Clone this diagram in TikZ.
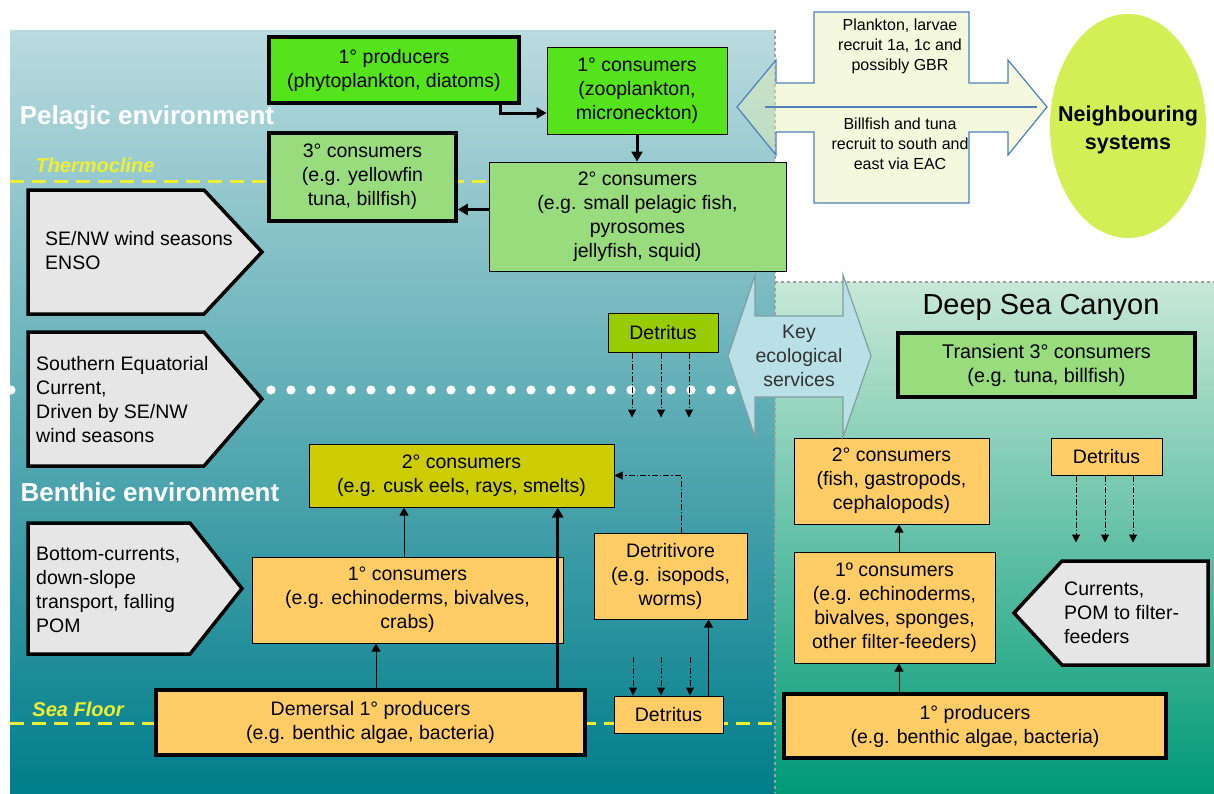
\documentclass[tikz,border=0pt]{standalone}
\usepackage{fontspec}
\setmainfont{Liberation Sans}
\usepackage{tikz}
\usetikzlibrary{arrows.meta}
\usetikzlibrary{positioning}

\definecolor{pelagictop}{HTML}{BADBDF}
\definecolor{pelagicmid}{HTML}{3396A7}
\definecolor{pelagicbot}{HTML}{007E8B}
\definecolor{canyontop}{HTML}{C8E8D7}
\definecolor{canyonmid}{HTML}{50BB95}
\definecolor{canyonbot}{HTML}{009A77}
\definecolor{brightgreen}{HTML}{55E41C}
\definecolor{palegreen}{HTML}{98DC7E}
\definecolor{olive}{HTML}{CCCC00}
\definecolor{detgreen}{HTML}{99CC00}
\definecolor{sand}{HTML}{FFCC66}
\definecolor{signgrey}{HTML}{E6E6E6}
\definecolor{keyblue}{HTML}{B9E0E6}
\definecolor{linkfill}{HTML}{E6F0B4}
\definecolor{linkedge}{HTML}{4F7FB8}
\definecolor{neighbour}{HTML}{D4EF55}
\definecolor{layeryellow}{HTML}{EEEE33}
\definecolor{panelgrey}{HTML}{A0A0A0}

\newcommand{\boxfont}{\fontsize{19.5}{24}\selectfont}
\newcommand{\linkfont}{\fontsize{16}{20}\selectfont}
\newcommand{\signright}[5]% left, top, shoulder, tip, bottom
{(#1,#2) -- (#3,#2) -- (#4,{(#2+#5)/2}) -- (#3,#5) -- (#1,#5) -- cycle
}
\newcommand{\signleft}[5]% tip, top, shoulder, right, bottom
{(#1,{(#2+#5)/2}) -- (#3,#2) -- (#4,#2) -- (#4,#5) -- (#3,#5) -- cycle
}

\begin{document}
\begin{tikzpicture}[x=1pt,y=-1pt,
	foodbox/.style={draw, line width=1pt, inner sep=0pt, align=center, font=\boxfont},
	heavybox/.style={foodbox, line width=3.5pt},
	signbox/.style={draw, line width=3.5pt, fill=signgrey},
	signtext/.style={anchor=west, align=left, inner sep=0pt, font=\boxfont},
	feed/.style={-{Triangle[width=9pt,length=8pt]}, line width=1pt},
	bigfeed/.style={-{Triangle[width=11pt,length=10pt]}, line width=3pt},
	sink/.style={-{Triangle[width=8pt,length=8pt]}, line width=1pt, dash pattern=on 6pt off 2pt on 1.5pt off 2pt},
	layerline/.style={layeryellow, line width=3pt, dash pattern=on 14pt off 8pt},
	layertext/.style={layeryellow, font=\fontsize{20}{24}\selectfont\bfseries\itshape},
	zonetext/.style={white, font=\fontsize{26}{30}\selectfont\bfseries}]
	\useasboundingbox (0,0) rectangle (1214,793);
	% water columns
	\shade[top color=pelagictop, middle color=pelagicmid, bottom color=pelagicbot] (10,30) rectangle (775,793);
	\shade[top color=canyontop, middle color=canyonmid, bottom color=canyonbot] (775,282) rectangle (1214,793);
	\draw[panelgrey, dashed, line width=1.4pt] (775,30) -- (775,793);
	\draw[panelgrey, dashed, line width=1.2pt] (775,282) -- (1214,282);
	% layers
	\draw[layerline] (10,181) -- (489,181);
	\draw[layerline] (10,723) -- (775,723);
	\foreach \x in {11,31,...,731}
		\fill[white] (\x,390) circle (4.6);
	\node[zonetext] (pelagic) at (147,118) {Pelagic environment};
	\node[zonetext] (benthic) at (150,492) {Benthic environment};
	\node[layertext] (thermo) at (95,165) {Thermocline};
	\node[layertext] (floor) at (78,709) {Sea Floor};
	\node[font=\fontsize{29}{34}\selectfont] (canyon) at (1041,307) {Deep Sea Canyon};
	% drivers
	\draw[signbox] \signright{28}{190}{204}{262}{314};
	\node[signtext] (wind) at (45,251) {SE/NW wind seasons\\ENSO};
	\draw[signbox] \signright{28}{332}{204}{262}{466};
	\node[signtext] (sec) at (36,400) {Southern Equatorial\\Current,\\Driven by SE/NW\\wind seasons};
	\draw[signbox] \signright{28}{523}{190}{242}{654};
	\node[signtext] (bottom) at (36,590) {Bottom-currents,\\down-slope\\transport, falling\\POM};
	\draw[signbox] \signleft{1014}{561}{1062}{1208}{665};
	\node[signtext] (currents) at (1064,613) {Currents,\\POM to filter-\\feeders};
	% pelagic web
	\node[heavybox, fill=brightgreen, minimum width=250, minimum height=66] (prodP) at (394,70) {1° producers\\(phytoplankton, diatoms)};
	\node[foodbox, fill=brightgreen, minimum width=180, minimum height=87] (consP) at (637,90.5) {1° consumers\\(zooplankton,\\microneckton)};
	\node[heavybox, fill=palegreen, minimum width=187, minimum height=88] (tertP) at (362.5,177) {3° consumers\\(e.g. yellowfin\\tuna, billfish)};
	\node[foodbox, fill=palegreen, minimum width=297, minimum height=109] (secP) at (637.5,216.5) {2° consumers\\(e.g. small pelagic fish,\\pyrosomes\\jellyfish, squid)};
	\node[foodbox, fill=detgreen, minimum width=110, minimum height=39] (detP) at (663,332.5) {Detritus};
	\draw[bigfeed] ([xshift=-20]prodP.south east) |- ([yshift=-22.5]consP.west);
	\draw[bigfeed] (consP.south) -- (consP.south |- secP.north);
	\draw[bigfeed] ([yshift=7]secP.west) -- ([yshift=7]secP.west -| tertP.east);
	\foreach \d in {-31,-2,26}
		\draw[sink] ([xshift=\d]detP.south) -- ++(0,65);
	% benthic web
	\node[foodbox, fill=olive, minimum width=305, minimum height=63] (secB) at (461.5,475.5) {2° consumers\\(e.g. cusk eels, rays, smelts)};
	\node[foodbox, fill=sand, minimum width=311, minimum height=86] (consB) at (407.5,600) {1° consumers\\(e.g. echinoderms, bivalves,\\crabs)};
	\node[foodbox, fill=sand, minimum width=153, minimum height=86] (detv) at (670.5,576) {Detritivore\\(e.g. isopods,\\worms)};
	\node[heavybox, fill=sand, minimum width=429, minimum height=65] (prodB) at (370.5,722.5) {Demersal 1° producers\\(e.g. benthic algae, bacteria)};
	\node[foodbox, fill=sand, minimum width=109, minimum height=37] (detB) at (668.5,714.5) {Detritus};
	\draw[feed] ([xshift=5.5]prodB.north) -- ([xshift=5.5]prodB.north |- consB.south);
	\draw[feed] ([xshift=-3.5]consB.north) -- ([xshift=-3.5]consB.north |- secB.south);
	\draw[bigfeed] ([xshift=-29]prodB.north east) -- ([xshift=-29]prodB.north east |- secB.south);
	\draw[sink] ([xshift=10.5]detv.north) |- (secB.east);
	\draw[feed] ([xshift=40]detB.north) -- ([xshift=40]detB.north |- detv.south);
	\foreach \d in {-35.5,-7.5,21.5}
		\draw[sink] ([xshift=\d,yshift=39]detB.north) -- ([xshift=\d]detB.north);
	% canyon web
	\node[heavybox, fill=palegreen, minimum width=297, minimum height=64, font=\fontsize{19.8}{24}\selectfont] (tranC) at (1046.5,365) {Transient 3° consumers\\(e.g. tuna, billfish)};
	\node[foodbox, fill=sand, minimum width=195, minimum height=86] (secC) at (891.5,481) {2° consumers\\(fish, gastropods,\\cephalopods)};
	\node[foodbox, fill=sand, minimum width=111, minimum height=37] (detC) at (1106.5,456.5) {Detritus};
	\node[foodbox, fill=sand, minimum width=201, minimum height=111] (consC) at (894.5,607.5) {1º consumers\\(e.g. echinoderms,\\bivalves, sponges,\\other filter-feeders)};
	\node[heavybox, fill=sand, minimum width=382, minimum height=64] (prodC) at (975,726) {1° producers\\(e.g. benthic algae, bacteria)};
	\draw[feed] ([xshift=4.5]consC.north) -- ([xshift=4.5]consC.north |- secC.south);
	\draw[feed] ([xshift=-76]prodC.north) -- ([xshift=-76]prodC.north |- consC.south);
	\foreach \d in {-30.5,-1.5,26.5}
		\draw[sink] ([xshift=\d]detC.south) -- ++(0,67);
	% exchange with outside
	\draw[keyblue!70!black, line width=1.2pt, fill=keyblue] (728,356) -- (755,275) -- (755,316) -- (843,316) -- (843,275) -- (871,356) -- (843,437) -- (843,397) -- (755,397) -- (755,437) -- cycle;
	\node[align=center, inner sep=0pt, font=\boxfont, text=black!80] (key) at (799,356) {Key\\ecological\\services};
	\draw[linkedge, line width=1.2pt, fill=linkfill, fill opacity=0.45] (737,107) -- (776,60) -- (776,83) -- (814,83) -- (814,12) -- (969,12) -- (969,83) -- (1008,83) -- (1008,60) -- (1047,107) -- (1008,155) -- (1008,132) -- (969,132) -- (969,203) -- (814,203) -- (814,132) -- (776,132) -- (776,155) -- cycle;
	\draw[linkedge, line width=1.2pt] (765,107) -- (1037,107);
	\node[align=center, inner sep=0pt, font=\linkfont] (larvae) at (900,46) {Plankton, larvae\\recruit 1a, 1c and\\possibly GBR};
	\node[align=center, inner sep=0pt, font=\linkfont] (billfish) at (900,144) {Billfish and tuna\\recruit to south and\\east via EAC};
	\coordinate (neighc) at (1128,126);
	\fill[neighbour] (neighc) ellipse (78 and 112);
	\node[align=center, inner sep=0pt, font=\fontsize{21.5}{28}\selectfont\bfseries] (neigh) at ([yshift=-4]neighc) {Neighbouring\\systems};
\end{tikzpicture}
\end{document}
